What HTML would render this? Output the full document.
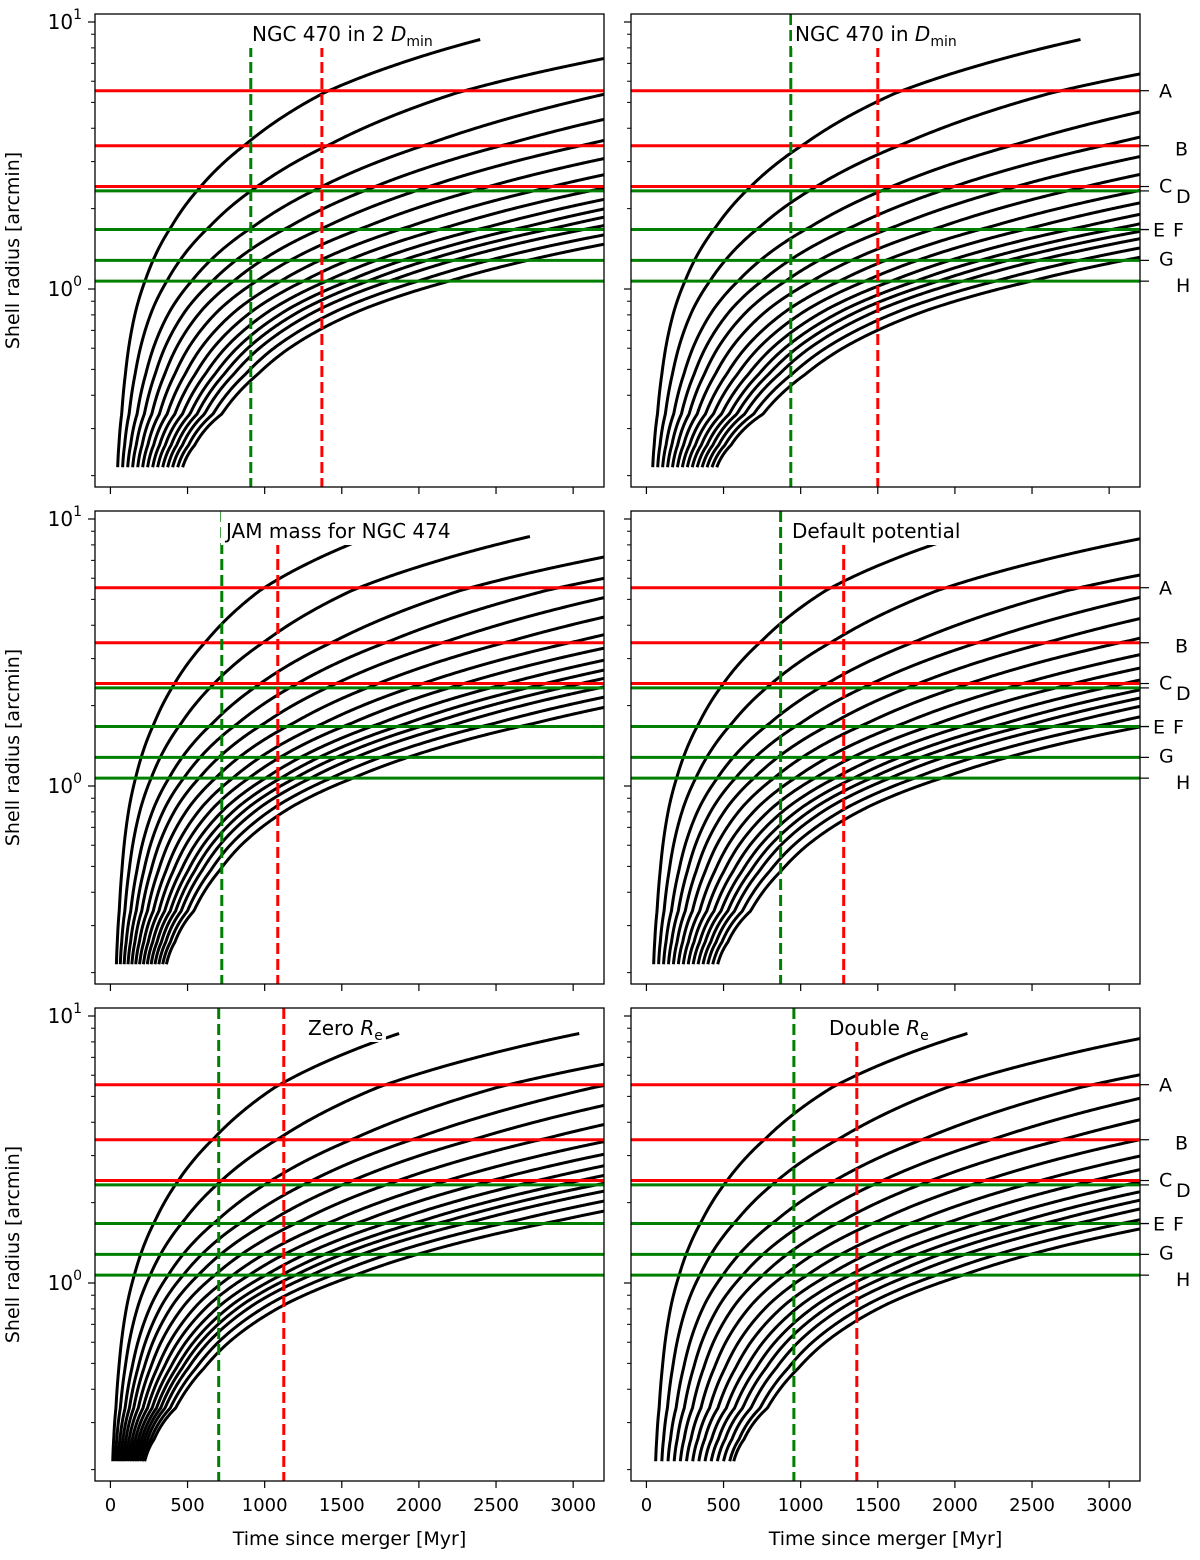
<!DOCTYPE html>
<html><head><meta charset="utf-8"><style>
body{margin:0;background:#fff}
svg{display:block;font-family:"DejaVu Sans","Liberation Sans",sans-serif}
</style></head><body>
<svg id="fig" width="1200" height="1560" viewBox="0 0 1200 1560" xmlns="http://www.w3.org/2000/svg"></svg>
<script>
// ---- data ----
const xTicks = [0, 500, 1000, 1500, 2000, 2500, 3000];
const yMinor = [0.2,0.3,0.4,0.5,0.6,0.7,0.8,0.9,2,3,4,5,6,7,8,9];
const yMajor = [1, 10];
const yMajorExp = ['0', '1'];
const shellNames = ['A','B','C','D','E','F','G','H'];
const shellRadii = [5.53, 3.44, 2.42, 2.33, 1.67, 1.67, 1.28, 1.07];
const shellColors = ['#ff0000','#ff0000','#ff0000','#008000','#008000','#008000','#008000','#008000'];
// shared shell-radius profile (time since shell start, radius)
const baseU = [0, 8, 26, 50, 69, 120, 177, 350, 533, 835, 1330, 1800, 2400];
const baseR = [0.215, 0.26, 0.34, 0.48, 0.59, 0.84, 1.07, 1.72, 2.4, 3.5, 5.4, 6.9, 8.75];
const rEnd = 8.6;
const panelTitles = ['NGC 470 in 2 |D|min', 'NGC 470 in |D|min', 'JAM mass for NGC 474', 'Default potential', 'Zero |R|e', 'Double |R|e'];
const panelStarts = [
 [47,79,112,144,177,209,241,274,306,339,371,403,436,468],
 [41,73,105,137,169,201,233,265,297,329,361,393,425,456],
 [39,64,89,114,139,164,189,214,239,264,289,314,339,363],
 [47,79,111,143,175,207,239,271,303,335,367,398,430,462],
 [15,31,47,63,79,95,111,127,143,159,175,191,207,222],
 [60,100,140,180,220,260,300,340,380,420,460,500,540,566]
];
const panelScales = [
 [1,1.62,2.34,2.92,3.51,4.17,4.87,5.52,6.18,6.78,7.33,7.94,8.80,9.76],
 [1.18,1.91,2.76,3.45,4.14,4.92,5.75,6.51,7.29,8.00,8.65,9.37,10.38,11.52],
 [0.70,1.13,1.64,2.04,2.46,2.92,3.41,3.86,4.33,4.75,5.13,5.56,6.16,6.83],
 [0.84,1.36,1.97,2.45,2.95,3.50,4.09,4.64,5.19,5.70,6.16,6.67,7.39,8.20],
 [0.79,1.28,1.85,2.31,2.77,3.29,3.85,4.36,4.88,5.36,5.79,6.27,6.95,7.71],
 [0.86,1.39,2.01,2.51,3.02,3.59,4.19,4.75,5.31,5.83,6.30,6.83,7.57,8.39]
];
const greenTimes = [910, 936, 722, 870, 702, 956];
const redTimes = [1371, 1500, 1085, 1279, 1124, 1364];

// ---- layout ----
const NS = 'http://www.w3.org/2000/svg';
const svg = document.getElementById('fig');
const colX = [95, 631], rowY = [14, 511, 1008], PW = 509, PH = 473;
const XMIN = -100, XMAX = 3200;
function mk(tag, attrs, parent) {
  const e = document.createElementNS(NS, tag);
  for (const k in attrs) e.setAttribute(k, attrs[k]);
  (parent || svg).appendChild(e);
  return e;
}
function base(u) {
  const lu = Math.log(u + 5);
  for (let i = 0; i < baseU.length - 1; i++) {
    const a = Math.log(baseU[i] + 5), b = Math.log(baseU[i + 1] + 5);
    if (lu <= b || i === baseU.length - 2) {
      const f = (lu - a) / (b - a);
      return Math.exp(Math.log(baseR[i]) + f * (Math.log(baseR[i + 1]) - Math.log(baseR[i])));
    }
  }
}

for (let p = 0; p < 6; p++) {
  const col = p % 2, row = Math.floor(p / 2);
  const x0 = colX[col], y0 = rowY[row];
  const X = t => x0 + (t - XMIN) * PW / (XMAX - XMIN);
  const Y = r => y0 + 8 + (1 - Math.log10(r)) * 267;
  const g = mk('g', {});
  
  
  const cp = mk('clipPath', { id: 'clip' + p }, g);
  mk('rect', { x: x0, y: y0, width: PW, height: PH }, cp);
  const plot = mk('g', { 'clip-path': 'url(#clip' + p + ')' }, g);

  const starts = panelStarts[p], scales = panelScales[p];
  for (let c = 0; c < starts.length; c++) {
    const t0 = starts[c], s = scales[c];
    let prevT = t0, prevR = base(0);
    let d = 'M' + X(t0).toFixed(2) + ' ' + Y(prevR).toFixed(2);
    for (let t = t0 + 1; t <= 3260; t += (t - t0 < 150 ? 2 : 10)) {
      const r = base((t - t0) / s);
      if (r > rEnd) {
        const f = (Math.log(rEnd) - Math.log(prevR)) / (Math.log(r) - Math.log(prevR));
        const te = prevT + f * (t - prevT);
        d += 'L' + X(te).toFixed(2) + ' ' + Y(rEnd).toFixed(2);
        break;
      }
      d += 'L' + X(t).toFixed(2) + ' ' + Y(r).toFixed(2);
      prevT = t; prevR = r;
    }
    const path = mk('path', { d: d, fill: 'none', stroke: '#000', 'stroke-width': 3, 'stroke-linejoin': 'round' }, plot);
    
    
  }
  for (let i = 0; i < shellRadii.length; i++) {
    const ln = mk('line', { x1: x0, x2: x0 + PW, y1: Y(shellRadii[i]), y2: Y(shellRadii[i]), stroke: shellColors[i], 'stroke-width': 3 }, plot);
    
    
  }
  const gl = mk('line', { x1: X(greenTimes[p]), x2: X(greenTimes[p]), y1: y0, y2: y0 + PH, stroke: '#008000', 'stroke-width': 3, 'stroke-dasharray': '11 5' }, plot);
  
  
  const rl = mk('line', { x1: X(redTimes[p]), x2: X(redTimes[p]), y1: y0, y2: y0 + PH, stroke: '#ff0000', 'stroke-width': 3, 'stroke-dasharray': '11 5' }, plot);
  
  

  const tx = [252, 795, 226, 792, 308, 829][p];
  const ty = y0 + 27;
  const bg = mk('rect', { fill: '#fff' }, plot);
  const tt = mk('text', { x: tx, y: ty, 'font-size': 20, fill: '#000' }, plot);
  
  
  const parts = panelTitles[p].split('|');
  mk('tspan', {}, tt).textContent = parts[0];
  if (parts.length > 1) {
    mk('tspan', { 'font-style': 'italic' }, tt).textContent = parts[1];
    mk('tspan', { 'font-size': 14, dy: 5 }, tt).textContent = parts[2];
  }
  const bb = tt.getBBox();
  bg.setAttribute('x', bb.x - 3); bg.setAttribute('y', y0);
  bg.setAttribute('width', bb.width + 6); bg.setAttribute('height', ty + 7 - y0);

  const fr = mk('rect', { x: x0, y: y0, width: PW, height: PH, fill: 'none', stroke: '#000', 'stroke-width': 1.3 }, g);
  
  

  for (let i = 0; i < xTicks.length; i++) {
    const xx = X(xTicks[i]);
    mk('line', { x1: xx, x2: xx, y1: y0 + PH, y2: y0 + PH + 7, stroke: '#000', 'stroke-width': 1.2 }, g);
    if (row === 2) {
      const tl = mk('text', { x: xx, y: y0 + PH + 30, 'font-size': 18, 'text-anchor': 'middle' }, g);
      
      
      tl.textContent = xTicks[i];
    }
  }
  for (let i = 0; i < yMinor.length; i++) {
    const yy = Y(yMinor[i]);
    if (yy > y0 + PH || yy < y0) continue;
    mk('line', { x1: x0 - 4, x2: x0, y1: yy, y2: yy, stroke: '#000', 'stroke-width': 1 }, g);
  }
  for (let i = 0; i < yMajor.length; i++) {
    const yy = Y(yMajor[i]);
    mk('line', { x1: x0 - 7, x2: x0, y1: yy, y2: yy, stroke: '#000', 'stroke-width': 1.2 }, g);
    if (col === 0) {
      const yl = mk('text', { x: x0 - 13, y: yy + 7, 'font-size': 20, 'text-anchor': 'end' }, g);
      
      
      mk('tspan', {}, yl).textContent = '10';
      mk('tspan', { 'font-size': 14, dy: -10 }, yl).textContent = yMajorExp[i];
    }
  }
  if (col === 0) {
    const cy = y0 + PH / 2;
    const ya = mk('text', { x: 19, y: cy, 'font-size': 19, 'text-anchor': 'middle', transform: 'rotate(-90 19 ' + cy + ')' }, g);
    
    
    ya.textContent = 'Shell radius [arcmin]';
  } else {
    const dxs = [19, 35, 19, 36, 13, 33, 19, 36];
    const dys = [7, 10, 6, 12, 7, 7, 5, 11];
    for (let i = 0; i < shellNames.length; i++) {
      const yy = Y(shellRadii[i]);
      mk('line', { x1: x0 + PW, x2: x0 + PW + 9, y1: yy, y2: yy, stroke: '#000', 'stroke-width': 1.2 }, g);
      const sl = mk('text', { x: x0 + PW + dxs[i], y: yy + dys[i], 'font-size': 19 }, g);
      
      
      sl.textContent = shellNames[i];
    }
  }
  if (row === 2) {
    const xa = mk('text', { x: x0 + PW / 2, y: y0 + PH + 64, 'font-size': 19, 'text-anchor': 'middle' }, g);
    
    
    xa.textContent = 'Time since merger [Myr]';
  }
}
</script>
</body></html>
